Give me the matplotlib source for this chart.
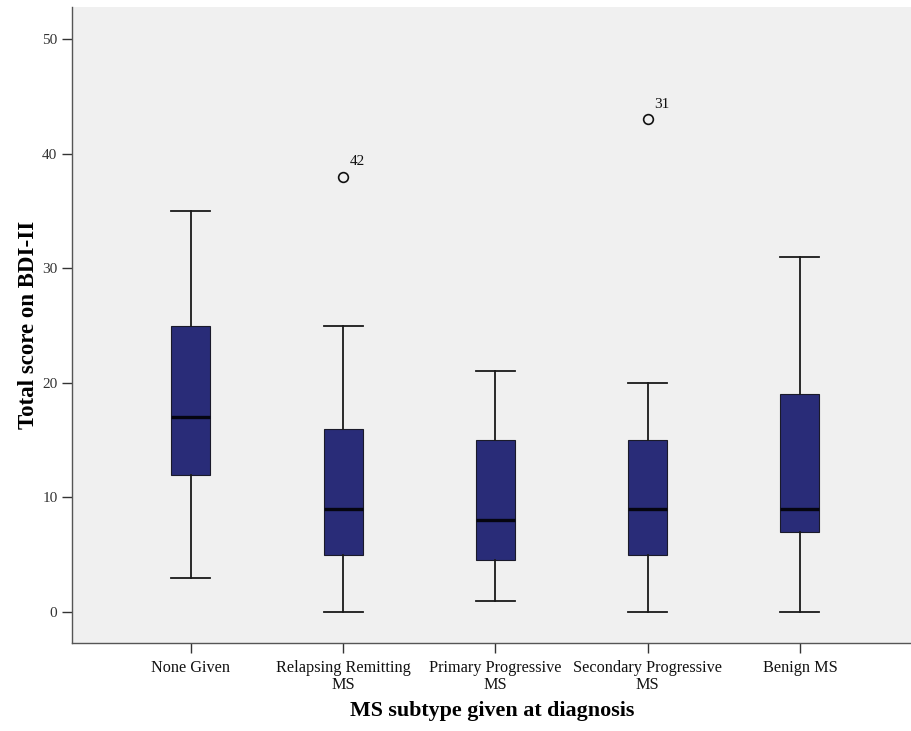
import matplotlib
matplotlib.use("Agg")
import matplotlib.pyplot as plt

categories = ["None Given", "Relapsing Remitting\nMS", "Primary Progressive\nMS",
              "Secondary Progressive\nMS", "Benign MS"]
whislo = [3, 0, 1, 0, 0]
q1 = [12, 5, 4.5, 5, 7]
med = [17, 9, 8, 9, 9]
q3 = [25, 16, 15, 15, 19]
whishi = [35, 25, 21, 20, 31]
outliers = [[], [38], [], [43], []]
outlier_ids = [[], ["42"], [], ["31"], []]
yticks = [0, 10, 20, 30, 40, 50]

plt.rcParams['font.family'] = ['Liberation Serif', 'DejaVu Serif']

fig = plt.figure(figsize=(9.12, 7.31), dpi=100)
ax = fig.add_axes([0.079, 0.1204, 0.921, 0.870])
ax.set_facecolor('#f0f0f0')

stats = []
for i in range(len(categories)):
    stats.append(dict(whislo=whislo[i], q1=q1[i], med=med[i], q3=q3[i],
                      whishi=whishi[i], fliers=outliers[i], label=categories[i]))

positions = list(range(1, len(categories) + 1))
ax.bxp(stats, positions=positions, widths=0.256, patch_artist=True,
       showfliers=True,
       boxprops=dict(facecolor='#292c78', edgecolor='#1a1a2a', linewidth=0.8),
       medianprops=dict(color='#050510', linewidth=2.4),
       whiskerprops=dict(color='#1a1a1a', linewidth=1.3),
       capprops=dict(color='#1a1a1a', linewidth=1.3),
       capwidths=0.256,
       flierprops=dict(marker='o', markerfacecolor='none', markeredgecolor='#111111',
                       markersize=7, markeredgewidth=1.2))

for i, (vals, ids) in enumerate(zip(outliers, outlier_ids)):
    for v, lab in zip(vals, ids):
        ax.annotate(lab, xy=(positions[i], v), xytext=(5, 6), textcoords='offset points',
                    fontsize=11, color='#111111', ha='left', va='bottom')

ax.set_xlim(0.2206, 5.736)
ax.set_ylim(-2.7, 52.8)
ax.set_yticks(yticks)
ax.set_xticks(positions)
ax.set_xticklabels(categories, fontsize=11.7, linespacing=1.1)
ax.tick_params(axis='y', labelsize=11, length=7, width=1.0, color='#333333', labelcolor='#333333')
ax.tick_params(axis='x', length=7, width=1.0, color='#333333', labelcolor='#111111', pad=5)

for s in ['top', 'right']:
    ax.spines[s].set_visible(False)
for s in ['left', 'bottom']:
    ax.spines[s].set_color('#555555')
    ax.spines[s].set_linewidth(1.0)

ax.set_ylabel('Total score on BDI-II', fontsize=16.5, fontweight='bold', labelpad=2)
ax.set_xlabel('MS subtype given at diagnosis', fontsize=15.8, fontweight='bold', labelpad=6)

fig.savefig('out.png', dpi=100, facecolor='white')
